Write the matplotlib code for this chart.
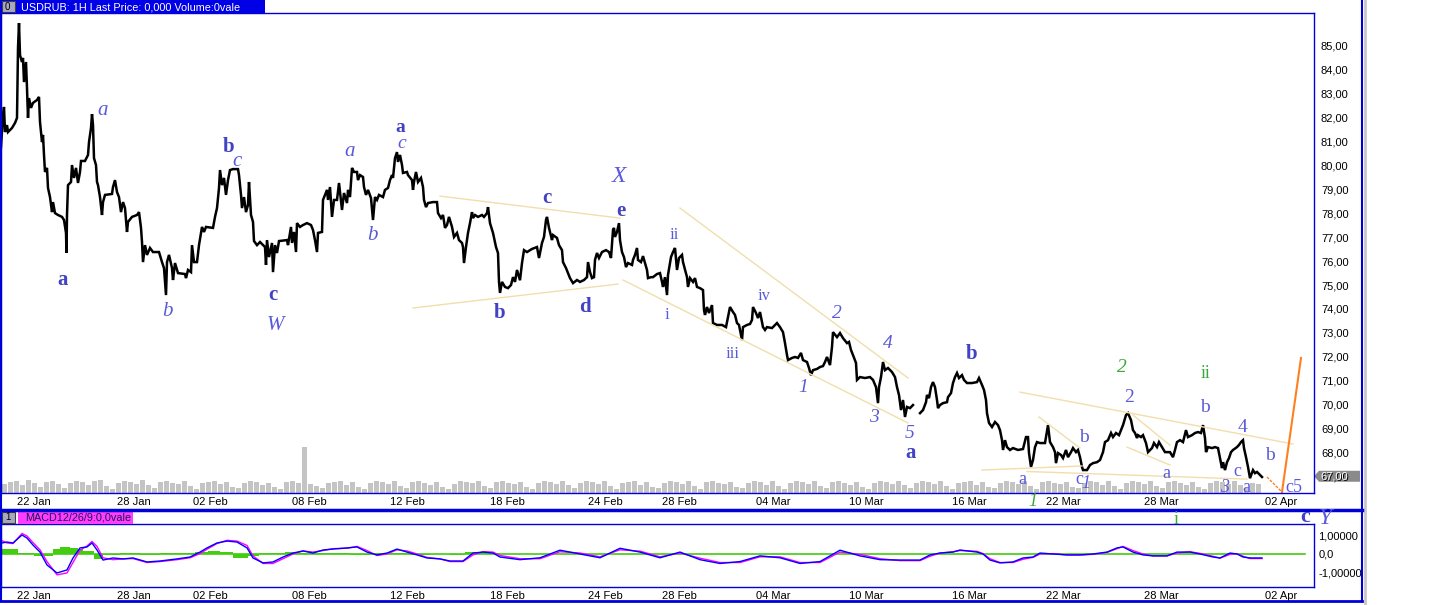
import numpy as np
import matplotlib.pyplot as plt
from matplotlib.lines import Line2D
from matplotlib.patches import Rectangle, Polygon

W, H = 1432, 605
BLUE = '#0000d8'

# price trace (bar position, price)
bar_x = [1, 3, 4, 5, 7, 8, 12, 15, 17, 18, 19, 20, 22, 23, 24, 26, 27, 28, 29, 31, 33, 37, 39, 40, 42, 43, 44, 45, 47, 48,
         50, 52, 53, 55, 58, 62, 64, 66, 66.5, 67, 68, 71, 72, 74, 76, 78, 80, 81, 85, 88, 89, 91, 92, 93, 94, 96, 97, 98,
         100, 102, 103, 105, 112, 113, 115, 117, 119, 121, 123, 125, 127, 128, 132, 137, 139, 141, 142, 143, 145, 147,
         150, 153, 159, 162, 164, 166, 167, 169, 172, 173, 175, 178, 185, 186, 188, 191, 192, 194, 197, 199, 202, 204,
         206, 213, 215, 217, 219, 220, 222, 224, 226, 228, 230, 233, 238, 239, 241, 242, 244, 246, 248, 249, 251, 253,
         254, 257, 260, 263, 265, 266, 267, 269, 272, 273, 275, 277, 279, 287, 288, 291, 292, 294, 296, 297, 300, 303,
         307, 311, 313, 315, 317, 318, 322, 323, 327, 328, 330, 332, 334, 337, 339, 342, 344, 347, 348, 350, 352, 354,
         357, 358, 360, 363, 364, 366, 368, 371, 373, 375, 377, 379, 383, 385, 388, 390, 392, 393, 395, 397, 398, 400,
         402, 403, 407, 408, 412, 413, 414, 416, 418, 421, 423, 424, 426, 428, 433, 437, 438, 441, 443, 445, 447, 449,
         452, 454, 457, 459, 462, 463, 464, 466, 468, 470, 472, 473, 475, 478, 482, 484, 487, 488, 490, 493, 496, 498,
         499, 500, 502, 505, 508, 511, 513, 515, 517, 520, 522, 524, 527, 532, 537, 539, 542, 544, 546, 547, 549, 552,
         553, 557, 559, 562, 563, 566, 568, 570, 573, 577, 580, 584, 587, 588, 590, 592, 594, 595, 597, 599, 602, 606,
         609, 611, 613, 614, 615, 617, 619, 620, 622, 624, 626, 628, 632, 633, 635, 637, 638, 641, 643, 645, 647, 648,
         651, 653, 657, 660, 662, 663, 665, 667, 668, 671, 673, 675, 677, 679, 682, 683, 687, 688, 690, 693, 695, 697,
         700, 703, 704, 705, 707, 709, 712, 713, 717, 722, 726, 728, 730, 733, 735, 737, 739, 742, 743, 747, 750, 752,
         753, 756, 758, 760, 763, 765, 767, 772, 775, 777, 780, 783, 785, 787, 788, 792, 795, 798, 801, 803, 807, 809,
         811, 813, 817, 820, 823, 825, 827, 830, 832, 833, 837, 840, 843, 847, 849, 851, 853, 856, 857, 860, 865, 870,
         873, 876, 878, 879, 881, 883, 885, 888, 892, 895, 897, 899, 901, 903, 905, 907, 910, 913, 916, 920, 923, 926,
         927, 929, 931, 933, 935, 937, 938, 940, 943, 947, 948, 951, 953, 955, 957, 959, 962, 964, 967, 972, 977, 979,
         982, 984, 986, 987, 989, 992, 995, 998, 1000, 1002, 1003, 1005, 1007, 1010, 1013, 1018, 1023, 1026, 1028,
         1029, 1031, 1033, 1035, 1037, 1040, 1045, 1048, 1050, 1053, 1055, 1056, 1058, 1061, 1063, 1066, 1068, 1071,
         1073, 1076, 1078, 1080, 1082, 1083, 1087, 1090, 1093, 1097, 1100, 1103, 1105, 1108, 1111, 1113, 1116, 1119,
         1123, 1126, 1128, 1131, 1133, 1135, 1137, 1138, 1141, 1143, 1146, 1148, 1152, 1154, 1157, 1159, 1162, 1165,
         1170, 1173, 1175, 1177, 1180, 1183, 1186, 1188, 1192, 1195, 1198, 1201, 1203, 1205, 1206, 1208, 1212, 1215,
         1218, 1220, 1222, 1223, 1225, 1227, 1229, 1231, 1233, 1237, 1239, 1241, 1243, 1244, 1246, 1248, 1250, 1253,
         1255, 1257, 1260, 1262]
price = [80.77, 82.11, 82.45, 81.40, 81.69, 81.40, 81.57, 81.78, 81.99, 84.92, 85.96, 84.62, 84.33, 84.50, 83.49, 84.33,
         83.24, 81.99, 82.82, 82.41, 82.62, 82.74, 82.87, 81.82, 80.98, 81.28, 80.44, 79.73, 79.90, 79.06,
         78.68, 78.05, 78.47, 78.01, 77.93, 77.85, 77.72, 77.18, 76.34, 77.93, 79.18, 79.31, 80.02, 79.48, 79.90, 79.27,
         79.73, 80.19, 80.19, 80.44, 80.98, 81.57, 82.15, 81.69, 80.31, 80.02, 79.31, 79.18,
         78.68, 77.93, 78.47, 78.77, 78.81, 79.10, 79.39, 78.89, 78.68, 78.05, 78.47, 78.22, 77.22, 77.64, 77.85, 77.93,
         78.05, 77.39, 76.80, 75.96, 76.67, 76.26,
         76.55, 76.38, 76.38, 75.96, 75.71, 74.58, 75.96, 76.26, 75.71, 75.21, 75.92, 75.50, 75.46, 75.29, 75.63, 75.54,
         76.67, 75.96, 75.96, 76.67, 77.43, 77.22,
         77.43, 77.39, 77.85, 78.22, 79.06, 79.81, 79.18, 79.48, 78.77, 79.39, 79.81, 79.85, 79.85, 79.60, 78.77, 78.22,
         78.68, 78.05, 78.35, 79.31, 77.93, 77.64,
         76.84, 76.67, 76.80, 76.67, 76.59, 75.84, 76.88, 76.17, 76.76, 75.54, 76.67, 76.34, 76.84, 76.88, 76.67, 77.43,
         76.76, 77.22, 76.38, 77.59, 77.43, 77.51,
         77.59, 77.51, 77.30, 76.88, 76.38, 77.18, 77.22, 78.56, 78.98, 78.56, 79.10, 77.85, 78.56, 78.56, 79.27, 78.14,
         78.85, 78.43, 78.98, 78.68, 79.90, 79.73,
         79.73, 79.39, 79.60, 79.52, 79.10, 78.77, 78.98, 78.64, 77.72, 78.68, 78.56, 78.77, 78.68, 78.98, 79.06, 79.39,
         79.60, 79.48, 80.31, 80.56, 80.15, 80.44,
         80.02, 79.69, 79.73, 79.60, 79.39, 78.98, 79.31, 79.73, 79.31, 79.48, 79.10, 78.56, 78.26, 78.43, 78.47, 78.47,
         78.01, 77.80, 77.93, 77.39, 77.51, 77.85,
         77.43, 77.01, 77.18, 76.88, 76.76, 76.59, 75.92, 76.59, 77.18, 77.59, 78.05, 77.80, 77.93, 77.85, 77.93, 77.85,
         78.01, 78.26, 77.59, 77.18, 76.59, 76.34,
         75.13, 74.67, 75.13, 74.92, 74.87, 75.00, 75.33, 75.13, 75.63, 75.20, 75.92, 76.46, 76.38, 76.51, 76.59, 76.13,
         76.76, 77.01, 77.72, 77.85, 77.39, 76.88,
         77.09, 76.97, 76.67, 76.46, 75.96, 75.71, 75.50, 75.29, 75.08, 75.21, 75.13, 75.21, 75.33, 75.96, 75.54, 75.29,
         75.33, 76.05, 76.34, 76.13, 76.38, 76.46,
         76.38, 76.13, 77.30, 77.39, 77.01, 77.22, 77.59, 76.88, 76.38, 76.17, 75.75, 75.92, 75.84, 76.05, 76.26, 76.55,
         76.05, 75.96, 76.21, 75.92, 75.63, 75.29,
         75.33, 75.33, 75.46, 75.50, 75.13, 74.92, 75.33, 74.58, 75.42, 76.17, 76.38, 76.55, 75.63, 76.13, 76.26, 75.96,
         75.33, 74.92, 75.29, 75.13, 75.29, 74.92,
         74.87, 74.79, 73.95, 73.75, 74.08, 73.83, 74.16, 73.41, 73.33, 73.33, 73.24, 73.66, 74.08, 73.87, 73.75, 73.41,
         73.33, 72.70, 73.24, 73.33, 73.37, 73.54,
         74.08, 73.83, 73.62, 73.87, 73.24, 73.12, 73.24, 73.20, 73.33, 73.41, 73.24, 73.03, 72.57, 72.07, 71.86, 71.95,
         71.99, 71.95, 72.16, 71.86, 71.78, 71.53,
         71.23, 71.44, 71.49, 71.57, 71.61, 71.78, 71.99, 71.65, 72.41, 73.03, 72.82, 72.99, 72.78, 72.57, 72.62, 72.28,
         72.07, 71.74, 71.03, 71.15, 71.11, 71.15,
         71.03, 70.73, 70.06, 70.73, 71.15, 71.78, 71.44, 71.53, 71.36, 71.15, 70.73, 70.40, 69.77, 70.19, 69.48, 69.90,
         69.85, 69.98, np.nan, 69.64, 69.77, 70.10,
         70.40, 70.27, 70.73, 70.94, 70.73, 70.19, 69.85, 69.98, 70.06, 70.10, 70.31, 70.48, 70.90, 71.15, 71.32, 71.11,
         71.23, 71.03, 70.90, 70.90, 70.94, 71.11,
         70.82, 70.61, 70.19, 69.64, 69.23, 69.06, 69.27, 69.14, 68.93, 68.51, 68.10, 68.51, 68.22, 68.10, 68.18, 68.10,
         68.14, 68.64, 68.64,
         67.97, 67.39, 67.68, 68.22, 68.43, 68.39, 68.39, 69.14, 68.43, 68.22, 68.01, 67.55, 67.97, 67.89, 67.76, 68.10,
         67.80, 68.01,
         68.18, 68.01, 68.10, 67.80, 67.39, 67.26, 67.26, 67.47, 67.55, 67.59, 67.68, 68.01, 68.43, 68.51, 68.81, 68.64,
         68.81, 68.72,
         69.14, 69.56, 69.64, 69.35, 68.93, 68.81, 68.60, 68.72, 68.64, 68.72, 68.39, 68.01, 68.18, 68.39, 68.22, 68.43,
         68.22, 68.01,
         68.01, 67.80, 68.10, 68.43, 68.51, 68.43, 68.93, 68.64, 68.72, 68.81, 68.85, 68.81, 69.14, 68.60, 68.01, 68.22,
         68.18, 68.22,
         68.18, 67.76, 67.34, 67.59, 67.26, 67.59, 67.76, 68.01, 68.10, 68.22, 68.31, 68.43, 68.51, 68.18, 67.80, 67.39,
         66.92, 67.26,
         67.13, 67.18, 67.05, 66.97]

# volume (rough, per 6 bars)
vol_x = list(range(4, 1264, 6))
vol = [9, 11, 12, 8, 13, 10, 6, 11, 12, 9, 5, 10, 12, 11, 8, 12, 13, 7, 4, 10, 12, 11, 9, 13, 8, 5, 11, 12, 10, 9,
       12, 7, 4, 10, 11, 12, 9, 11, 6, 5, 10, 12, 11, 8, 10, 6, 4, 11, 12, 10, 46, 9, 7, 5, 10, 11, 12, 8, 11, 6,
       4, 10, 12, 11, 9, 12, 7, 5, 11, 12, 10, 8, 11, 6, 4, 9, 12, 11, 10, 12, 7, 5, 11, 12, 10, 9, 11, 6, 4, 10,
       12, 11, 9, 12, 8, 5, 10, 12, 11, 9, 12, 7, 4, 10, 11, 12, 8, 11, 6, 5, 10, 12, 11, 9, 12, 7, 4, 11, 12, 10,
       9, 11, 6, 5, 10, 12, 11, 8, 12, 7, 4, 10, 12, 11, 9, 12, 7, 5, 11, 12, 10, 8, 11, 6, 4, 10, 12, 11, 9, 12,
       8, 5, 10, 12, 11, 9, 12, 7, 4, 10, 11, 12, 8, 11, 6, 5, 10, 12, 11, 9, 12, 7, 4, 11, 12, 10, 9, 11, 6, 5,
       10, 12, 11, 8, 12, 7, 4, 10, 12, 11, 9, 12, 7, 5, 11, 12, 10, 8, 11, 6, 4, 10, 12, 11, 9, 12, 8, 5, 10, 9]

# MACD
macd_x = [2, 7, 13, 22, 27, 33, 40, 47, 57, 67, 73, 80, 87, 92, 97, 103, 113, 123, 133, 147, 160, 177, 190, 200, 207,
          217, 227, 237, 247, 253, 263, 273, 283, 293, 303, 313, 323, 333, 347, 357, 367, 377, 387, 397, 407, 417, 427,
          440, 450, 463, 473, 483, 493, 500, 520, 540, 560, 580, 600, 620, 640, 660, 680, 700, 720, 740, 760, 780, 800,
          820, 840, 860, 880, 900, 920, 930, 940, 953, 960, 977, 983, 990, 1000, 1013, 1023, 1033, 1040, 1053, 1067,
          1080, 1093, 1107, 1117, 1123, 1133, 1143, 1153, 1167, 1177, 1190, 1200, 1213, 1220, 1230, 1237, 1243, 1250,
          1255, 1262]
macd = [.58, .63, .58, 1.0, .84, .47, .10, -.58, -1.0, -.84, -.21, .32, .37, .58, .21, -.32, -.21, -.26, -.21, -.42,
        -.37, -.26, -.16, .10, .32, .58, .68, .63, .32, -.21, -.47, -.42, -.16, .05, .16, .05, .21, .26, .32, .37, .10,
        -.05, .05, .26, .10, -.05, -.21, -.26, -.37, -.37, .05, .10, .05, -.16, -.3, -.2, .2, 0, -.2, .3, .1, -.2, .1,
        -.3, -.5, -.4, -.1, -.2, -.5, -.4, .2, -.1, -.3, -.32, -.32, -.05, .05, .10, .21, .10, 0, -.32, -.47, -.42,
        -.21, -.16, .05, 0, -.05, -.05, 0, .10, .32, .37, .10, -.05, -.10, -.10, .10, .10, 0, -.16, -.21, .05, 0,
        -.16, -.21, -.21, -.21]
signal = [.70, .58, .55, 1.08, .95, .60, .22, -.40, -1.10, -1.0, -.45, .20, .42, .66, .40, -.20, -.30, -.26, -.24,
          -.45, -.40, -.30, -.20, .02, .25, .55, .72, .68, .45, -.10, -.50, -.50, -.25, 0, .16, .10, .18, .28, .30,
          .40, .18, -.08, 0, .22, .16, 0, -.18, -.26, -.40, -.40, -.05, .12, .10, -.08, -.25, -.25, .12, .05, -.15,
          .22, .15, -.15, .05, -.22, -.45, -.45, -.15, -.15, -.45, -.45, .10, -.02, -.25, -.35, -.35, -.12, .05, .12,
          .18, .14, .02, -.25, -.45, -.45, -.28, -.18, 0, .02, -.05, -.05, -.02, .08, .28, .40, .18, 0, -.10, -.10,
          .05, .12, .03, -.12, -.22, -.02, .02, -.12, -.24, -.24, -.24]
hist_x = [2, 15, 20, 32, 35, 50, 55, 65, 75, 80, 85, 92, 95, 110, 130, 150, 170, 190, 200, 215, 225, 240, 255, 262,
          280, 290, 300, 320, 340, 360, 380, 400, 420, 440, 460, 470, 480, 500]
hist = [.26, .26, .05, .05, -.1, -.1, .25, .37, .30, .25, .15, .15, -.25, -.05, .05, -.03, .04, .03, .1, .15, .1, -.21,
        -.1, .05, .05, .08, .06, .03, .05, -.04, .03, .05, -.05, .02, -.06, .1, .12, .03]

# tick labels
date_pos = [34, 134, 210, 309, 407, 507, 605, 679, 773, 866, 969, 1063, 1161, 1281]
date_lab = ['22 Jan', '28 Jan', '02 Feb', '08 Feb', '12 Feb', '18 Feb', '24 Feb', '28 Feb', '04 Mar', '10 Mar',
            '16 Mar', '22 Mar', '28 Mar', '02 Apr']
price_ticks = list(range(67, 86))
macd_ticks = [1.0, 0.0, -1.0]
macd_tick_lab = ['1,00000', '0,0', '-1,00000']
last_price = 67.0


def fig_px(x, y):
    return x / W, 1 - y / H


def add_ax(x0, y0, x1, y1):
    return fig.add_axes([x0 / W, 1 - y1 / H, (x1 - x0) / W, (y1 - y0) / H])


def fline(x0, y0, x1, y1, lw=1.0, c=BLUE):
    a, b = fig_px(x0, y0)
    d, e = fig_px(x1, y1)
    fig.add_artist(Line2D([a, d], [b, e], transform=fig.transFigure, color=c, lw=lw))


def frect(x0, y0, x1, y1, fc, ec='none'):
    a, b = fig_px(x0, y1)
    fig.add_artist(Rectangle((a, b), (x1 - x0) / W, (y1 - y0) / H, transform=fig.transFigure, fc=fc, ec=ec, lw=0.8))


fig = plt.figure(figsize=(W / 100, H / 100), dpi=100)
fig.patch.set_facecolor('white')
plt.rcParams['font.family'] = ['Liberation Sans', 'DejaVu Sans']

# ---- main price panel
ax = add_ax(1, 13, 1314, 493)
ax.set_xlim(1, 1314)
ax.set_ylim(66.30, 86.38)

axv = ax.twinx()
axv.bar(vol_x, vol, width=5, color='#c4c4c4', lw=0)
axv.set_ylim(0, 480)
axv.set_yticks([])
axv.set_zorder(0)
ax.set_zorder(1)
ax.patch.set_visible(False)

ax.plot(bar_x, price, color='black', lw=1.8, solid_joinstyle='miter')

ax.yaxis.tick_right()
ax.set_yticks(price_ticks)
ax.set_yticklabels(['%d,00' % v for v in price_ticks], fontsize=8)
ax.tick_params(axis='y', length=0, pad=5)
ax.set_xticks(date_pos)
ax.set_xticklabels(date_lab, fontsize=8)
ax.tick_params(axis='x', length=0, pad=3)
for s in ax.spines.values():
    s.set_color(BLUE)
    s.set_linewidth(1)
for s in axv.spines.values():
    s.set_visible(False)

# trend lines
tan = '#f2deab'
ax.plot([413, 618], [74.04, 75.04], color=tan, lw=1)
ax.plot([440, 620], [78.72, 77.80], color=tan, lw=1)
ax.plot([680, 908], [78.22, 71.11], color=tan, lw=1)
ax.plot([623, 908], [75.21, 69.23], color=tan, lw=1)
ax.plot([1020, 1293], [70.52, 68.35], color=tan, lw=1)
ax.plot([982, 1082], [67.26, 67.43], color=tan, lw=1)
ax.plot([1027, 1247], [67.20, 66.88], color=tan, lw=1)
ax.plot([1039, 1080], [69.48, 68.18], color=tan, lw=1)
ax.plot([1133, 1170], [69.56, 68.30], color=tan, lw=1)
ax.plot([1127, 1170], [68.22, 67.47], color=tan, lw=1)
ax.plot([1267, 1282], [66.97, 66.34], color='#ff8020', lw=1, ls=(0, (2, 1)))
ax.plot([1282, 1301], [66.34, 71.95], color='#ff8020', lw=1.5)

# last price box on the right axis
ly = ax.transData.transform((0, last_price))[1]
ly = H - ly
fig.add_artist(Polygon([fig_px(1314, ly), fig_px(1319, ly - 5.5), fig_px(1360, ly - 5.5), fig_px(1360, ly + 5.5),
                        fig_px(1319, ly + 5.5)], closed=True, transform=fig.transFigure, fc='#8a8a8a', ec='none'))
fig.text(*fig_px(1320, ly), '67,00', color='white', fontsize=8, va='center')

# ---- MACD panel
ax2 = add_ax(1, 524, 1314, 587)
ax2.set_xlim(1, 1314)
ax2.set_ylim(-1.74, 1.58)
ax2.fill_between(hist_x, 0, hist, step='mid', color='#44cc11', lw=0)
ax2.plot([1, 1305], [0, 0], color='#44cc11', lw=1.2)
ax2.plot(macd_x, signal, color='#ff00ff', lw=1)
ax2.plot(macd_x, macd, color='#0000ff', lw=1)
ax2.yaxis.tick_right()
ax2.set_yticks(macd_ticks)
ax2.set_yticklabels(macd_tick_lab, fontsize=8)
ax2.tick_params(axis='y', length=0, pad=3)
ax2.set_xticks(date_pos)
ax2.set_xticklabels(date_lab, fontsize=8)
ax2.tick_params(axis='x', length=0, pad=3)
for s in ax2.spines.values():
    s.set_color(BLUE)
    s.set_linewidth(1)

# ---- frame
fline(0.5, 0, 0.5, 601, lw=1.5)
fline(1362, 0, 1362, 601, lw=1.5)
fline(1364.5, 0, 1364.5, 605, lw=2, c='#c8c8c8')
fline(0, 510, 1362, 510, lw=2.5)
fline(0, 601, 1362, 601, lw=2)

# title bar
frect(0, 0, 265, 13, '#0000e6')
frect(2, 1, 15, 12, '#a8a8c0', ec='#404040')
fig.text(*fig_px(5, 7), '0', fontsize=7, va='center', color='black')
fig.text(*fig_px(21, 7), 'USDRUB: 1H Last Price: 0,000 Volume:0vale', fontsize=7.8, va='center', color='white')

# MACD header
frect(2, 512, 15, 523, '#a8a8c0', ec='#404040')
fig.text(*fig_px(5, 517.5), '1', fontsize=7, va='center', color='black')
frect(18, 512, 133, 524, '#ff3cff')
fig.text(*fig_px(25, 518), 'MACD12/26/9:0,0vale', fontsize=7.8, va='center', color='#1a1a50')

# wave labels (x, y pixel, text, style)
C1 = '#4242c4'
C2 = '#5a5ad8'
GR = '#3aa83a'
labels = [
    (63, 280, 'a', 'b', C1, 15), (103, 110, 'a', 'i', C2, 15), (167, 311, 'b', 'i', C2, 15),
    (229, 147, 'b', 'b', C1, 15), (237, 161, 'c', 'i', C2, 15), (273, 295, 'c', 'b', C1, 15),
    (275, 325, 'W', 'i', C2, 15), (350, 152, 'a', 'i', C2, 15), (372, 235, 'b', 'i', C2, 15),
    (400, 127, 'a', 'b', C1, 14), (402, 143, 'c', 'i', C2, 14), (500, 313, 'b', 'b', C1, 15),
    (547, 198, 'c', 'b', C1, 15), (585, 307, 'd', 'b', C1, 15), (619, 177, 'X', 'i', C2, 17),
    (621, 211, 'e', 'b', C1, 15), (674, 235, 'ii', 'r', C2, 12), (667, 315, 'i', 'r', C2, 12),
    (764, 296, 'iv', 'r', C2, 12), (733, 354, 'iii', 'r', C2, 12), (837, 313, '2', 'i', C2, 14),
    (803, 387, '1', 'i', C2, 14), (888, 343, '4', 'i', C2, 14), (874, 417, '3', 'i', C2, 14),
    (910, 433, '5', 'i', C2, 14), (911, 453, 'a', 'b', C1, 15), (972, 354, 'b', 'b', C1, 15),
    (1122, 368, '2', 'i', GR, 14), (1206, 373, 'ii', 'r', GR, 13), (1129, 398, '2', 'r', C2, 14),
    (1084, 437, 'b', 'r', C2, 14), (1205, 408, 'b', 'r', C2, 14), (1243, 428, '4', 'r', C2, 14),
    (1270, 456, 'b', 'r', C2, 14), (1022, 479, 'a', 'r', C2, 13), (1079, 480, 'c', 'r', C2, 13),
    (1086, 484, '1', 'i', C2, 13), (1166, 473, 'a', 'r', C2, 13), (1237, 472, 'c', 'r', C2, 13),
    (1225, 487, '3', 'i', C2, 13), (1246, 487, 'a', 'r', C2, 13), (1294, 488, 'c5', 'r', C2, 13),
    (1033, 502, '1', 'i', GR, 13), (1176, 519, 'i', 'r', GR, 13), (1305, 517, 'c', 'b', C1, 16),
    (1325, 519, 'Y', 'i', C2, 17),
]
for x, y, t, st, c, fs in labels:
    fig.text(*fig_px(x, y), t, ha='center', va='center', color=c, fontsize=fs,
             family='Liberation Serif', fontweight='bold' if st == 'b' else 'normal',
             fontstyle='italic' if st == 'i' else 'normal')

fig.savefig('out.png', dpi=100)
